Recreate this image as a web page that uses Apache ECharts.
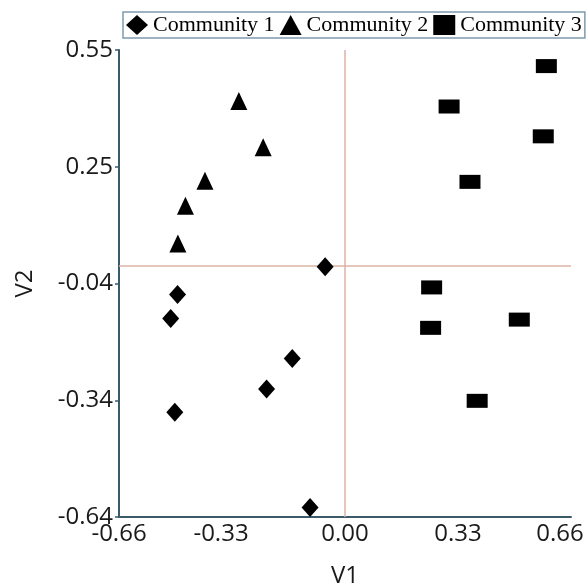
<!DOCTYPE html>
<html><head><meta charset="utf-8">
<script src="https://cdn.jsdelivr.net/npm/echarts@6/dist/echarts.min.js"></script>
<style>html,body{margin:0;padding:0;background:#fff}#c{width:586px;height:586px}</style>
</head><body><div id="c"></div>
<script>
const seriesNames = ['Community 1', 'Community 2', 'Community 3'];
const community1 = [[-0.058, -0.002], [-0.489, -0.073], [-0.509, -0.134], [-0.154, -0.236], [-0.229, -0.314], [-0.497, -0.373], [-0.102, -0.616]];
const community2 = [[-0.310, 0.420], [-0.239, 0.302], [-0.409, 0.217], [-0.466, 0.153], [-0.488, 0.057]];
const community3 = [[0.588, 0.509], [0.304, 0.406], [0.579, 0.330], [0.365, 0.214], [0.253, -0.055], [0.509, -0.137], [0.250, -0.158], [0.386, -0.344]];
const xTickValues = [-0.66, -0.33, 0, 0.33, 0.66];
const xTickLabels = ['-0.66', '-0.33', '0.00', '0.33', '0.66'];
const yTickValues = [-0.64, -0.3425, -0.045, 0.2525, 0.55];
const yTickLabels = ['-0.64', '-0.34', '-0.04', '0.25', '0.55'];

function lookupIndex(vals, v) {
  for (let i = 0; i < vals.length; i++) if (Math.abs(vals[i] - v) < 1e-6) return i;
  return -1;
}
// label styles: the source placed a few x labels slightly off their ticks
const xLabelStyle = ['n', 'sl', 'n', 'n', 'sl'];
const axisColor = '#3b5b6b';
const labelFont = { fontFamily: 'Open Sans', fontSize: 24, color: '#1a1a1a' };
const crossColor = '#dbb3a3';

const chart = echarts.init(document.getElementById('c'), null, { renderer: 'canvas' });
chart.setOption({
  animation: false,
  backgroundColor: '#fff',
  legend: {
    left: 123, top: 12,
    padding: [2, 3],
    itemGap: 5,
    itemWidth: 22, itemHeight: 20,
    borderColor: '#7c9cae', borderWidth: 1.5,
    textStyle: { fontFamily: 'Liberation Serif', fontSize: 22, color: '#000' },
    data: seriesNames
  },
  grid: { left: 119, right: 15, top: 50, bottom: 69, containLabel: false, outerBoundsMode: 'none' },
  xAxis: {
    type: 'value', min: -0.66, max: 0.66, interval: 0.33,
    name: 'V1', nameLocation: 'middle', nameGap: 47,
    nameTextStyle: labelFont,
    axisLine: { onZero: false, lineStyle: { color: axisColor, width: 2 } },
    axisTick: { show: false },
    splitLine: { show: false },
    axisLabel: Object.assign({
      margin: 5,
      formatter: v => {
        const i = lookupIndex(xTickValues, v);
        if (i < 0) return '';
        return '{' + xLabelStyle[i] + '|' + xTickLabels[i] + '}';
      },
      rich: {
        n: { fontFamily: 'Open Sans', fontSize: 24, color: '#1a1a1a' },
        sl: { fontFamily: 'Open Sans', fontSize: 24, color: '#1a1a1a', padding: [0, 22, 0, 0] }
      }
    }, labelFont)
  },
  yAxis: {
    type: 'value', min: -0.64, max: 0.55,
    name: 'V2', nameLocation: 'middle', nameGap: 82,
    nameTextStyle: labelFont,
    axisLine: { show: true, onZero: false, lineStyle: { color: axisColor, width: 2 } },
    axisTick: { show: true, length: 4, customValues: yTickValues, lineStyle: { color: axisColor, width: 1.5 } },
    splitLine: { show: false },
    axisLabel: Object.assign({ margin: 6, customValues: yTickValues, formatter: v => { const i = lookupIndex(yTickValues, v); return i < 0 ? '' : yTickLabels[i]; } }, labelFont)
  },
  series: [
    {
      name: seriesNames[0], type: 'scatter', symbol: 'diamond', symbolSize: [17, 19],
      itemStyle: { color: '#000', opacity: 1 }, data: community1, z: 3,
      markLine: {
        silent: true, symbol: 'none', label: { show: false },
        lineStyle: { color: crossColor, type: 'solid', width: 1.5 },
        data: [{ xAxis: 0 }, { yAxis: 0 }], z: 1
      }
    },
    { name: seriesNames[1], type: 'scatter', symbol: 'triangle', symbolSize: [17, 18], itemStyle: { color: '#000', opacity: 1 }, data: community2, z: 3 },
    { name: seriesNames[2], type: 'scatter', symbol: 'rect', symbolSize: [21, 14], itemStyle: { color: '#000', opacity: 1 }, data: community3, z: 3 }
  ]
});
</script>
</body></html>
